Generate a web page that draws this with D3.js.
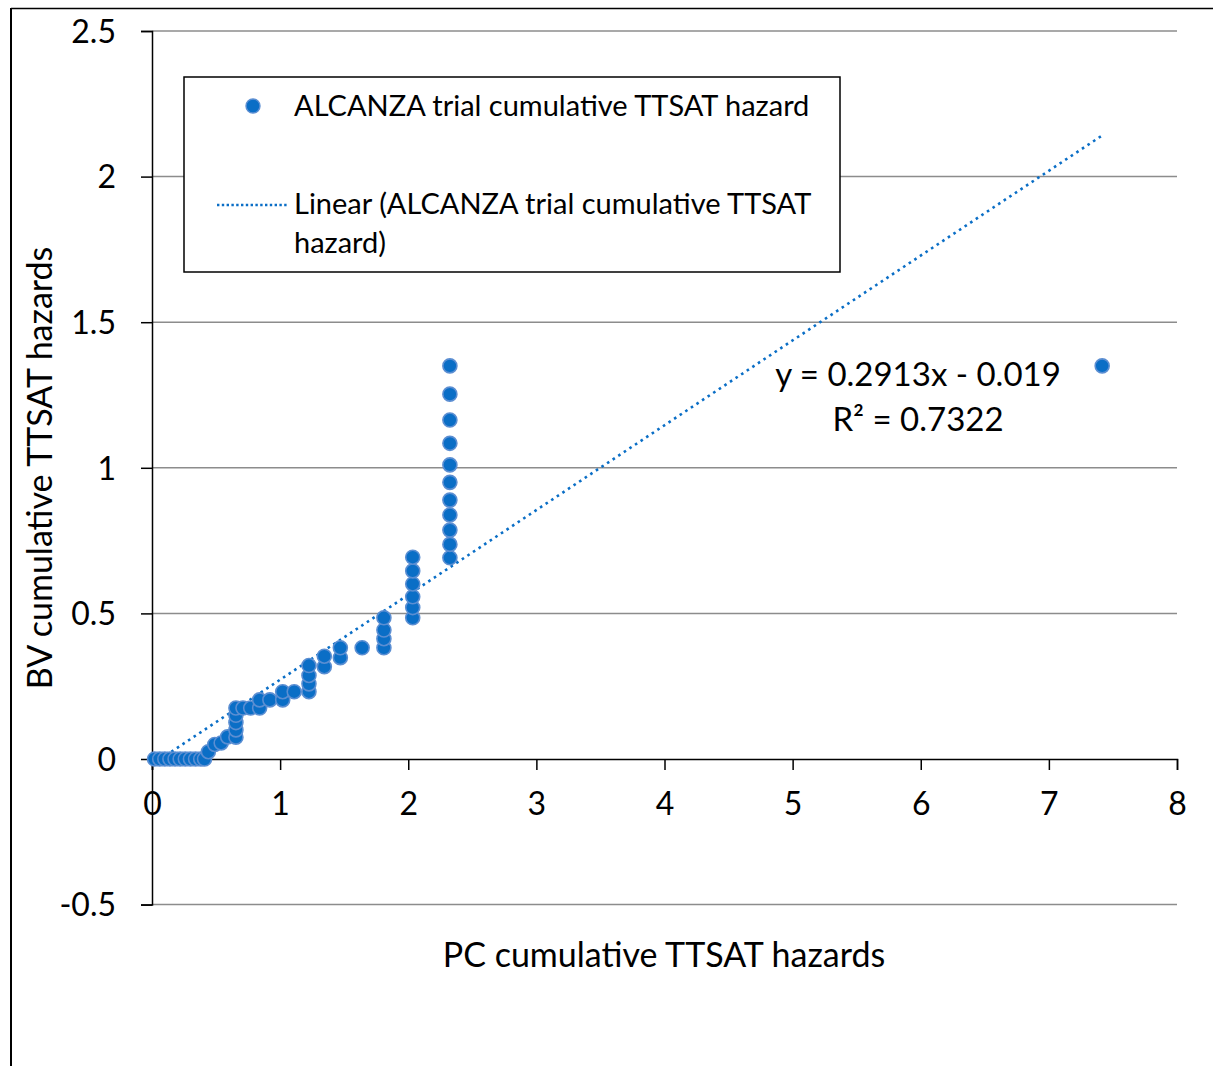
<!DOCTYPE html>
<html><head><meta charset="utf-8">
<script src="https://cdn.jsdelivr.net/npm/d3@7"></script>
<style>
html,body{margin:0;padding:0;background:#fff;}
svg text{font-family:Lato,"Open Sans",sans-serif;fill:#000;}
</style></head>
<body><svg id="chart" width="1213" height="1066"></svg>
<script>
// Data: PC cumulative TTSAT hazard (x) vs BV cumulative TTSAT hazard (y)
const pcHazard = [0.02,0.06,0.10,0.14,0.18,0.22,0.26,0.30,0.34,0.38,0.41,
  0.44,0.49,0.54,0.59,
  0.655,0.655,0.655,0.655,0.655,
  0.71,0.77,0.84,0.84,0.92,1.02,1.02,1.11,
  1.225,1.225,1.225,1.225,
  1.345,1.345,1.47,1.47,1.64,
  1.81,1.81,1.81,1.81,
  2.035,2.035,2.035,2.035,2.035,2.035,
  2.325,2.325,2.325,2.325,2.325,2.325,2.325,2.325,2.325,2.325,2.325,
  7.416];
const bvHazard = [0,0,0,0,0,0,0,0,0,0,0,
  0.025,0.05,0.055,0.076,
  0.075,0.10,0.125,0.15,0.175,
  0.175,0.175,0.175,0.203,0.203,0.203,0.231,0.231,
  0.231,0.258,0.287,0.321,
  0.317,0.353,0.348,0.382,0.382,
  0.382,0.413,0.443,0.485,
  0.485,0.520,0.557,0.601,0.646,0.693,
  0.691,0.737,0.786,0.838,0.889,0.950,1.010,1.084,1.164,1.253,1.350,
  1.350];
const xTicks = [0,1,2,3,4,5,6,7,8];
const yTicks = [-0.5,0,0.5,1,1.5,2,2.5];
const trendSlope = 0.2913, trendIntercept = -0.019, rSquared = 0.7322;
const seriesName = "ALCANZA trial cumulative TTSAT hazard";
const xTitle = "PC cumulative TTSAT hazards";
const yTitle = "BV cumulative TTSAT hazards";

const svg = d3.select("#chart");
const x = d3.scaleLinear().domain([0,8]).range([152,1177]);
const y = d3.scaleLinear().domain([-0.5,2.5]).range([904.6,31]);
const blue = "#0a6ec6";
const FS = 29, TICKFS = 32, TITLEFS = 34, EQFS = 33;

// outer chart frame (partially visible)
svg.append("line").attr("x1",11).attr("x2",11).attr("y1",8).attr("y2",1066).attr("stroke","#000").attr("stroke-width",2);
svg.append("line").attr("x1",11).attr("x2",1213).attr("y1",8.5).attr("y2",8.5).attr("stroke","#000").attr("stroke-width",1.5);

// gridlines
svg.append("g").selectAll("line").data(yTicks.filter(d=>d!==0)).join("line")
  .attr("x1",x(0)).attr("x2",x(8)).attr("y1",d=>y(d)).attr("y2",d=>y(d))
  .attr("stroke","#8c8c8c").attr("stroke-width",1.5);

// y axis
const yAxis = svg.append("g").attr("transform",`translate(${x(0)},0)`)
  .call(d3.axisLeft(y).tickValues(yTicks).tickSize(11).tickPadding(25).tickFormat(d=>String(d)));
yAxis.select(".domain").attr("stroke","#000").attr("stroke-width",1.5);
yAxis.selectAll(".tick line").attr("stroke","#000").attr("stroke-width",1.5);
yAxis.selectAll("text").attr("font-size",TICKFS).attr("font-family","Lato").attr("dy","0.35em");

// x axis at y=0
const xAxis = svg.append("g").attr("transform",`translate(0,${y(0)})`)
  .call(d3.axisBottom(x).tickValues(xTicks).tickSize(11).tickSizeOuter(11).tickPadding(22).tickFormat(d=>String(d)));
xAxis.select(".domain").attr("stroke","#000").attr("stroke-width",1.5);
xAxis.selectAll(".tick line").attr("stroke","#000").attr("stroke-width",1.5);
xAxis.selectAll("text").attr("font-size",TICKFS).attr("font-family","Lato");

// trendline over data x extent
const xExt = d3.extent(pcHazard);
svg.append("line")
  .attr("x1",x(xExt[0])).attr("y1",y(trendSlope*xExt[0]+trendIntercept))
  .attr("x2",x(xExt[1])).attr("y2",y(trendSlope*xExt[1]+trendIntercept))
  .attr("stroke",blue).attr("stroke-width",2.6).attr("stroke-dasharray","2.6 4.1");

// points
const pts = pcHazard.map((v,i)=>({x:v,y:bvHazard[i]}));
svg.append("g").selectAll("circle").data(pts).join("circle")
  .attr("cx",d=>x(d.x)).attr("cy",d=>y(d.y)).attr("r",7)
  .attr("fill",blue).attr("stroke","#5b8ed2").attr("stroke-width",1.6);

// trend equation
const eq = svg.append("text").attr("text-anchor","middle").attr("font-size",EQFS);
eq.append("tspan").attr("x",918).attr("y",386).text(`y = ${trendSlope}x - ${Math.abs(trendIntercept)}`);
eq.append("tspan").attr("x",918).attr("y",431).text(`R² = ${rSquared}`);

// axis titles
svg.append("text").attr("x",664).attr("y",967).attr("text-anchor","middle").attr("font-size",TITLEFS).text(xTitle);
svg.append("text").attr("transform","translate(52,468) rotate(-90)").attr("text-anchor","middle").attr("font-size",TITLEFS).text(yTitle);

// legend
const lg = svg.append("g");
lg.append("rect").attr("x",184).attr("y",77).attr("width",656).attr("height",195)
  .attr("fill","#fff").attr("stroke","#000").attr("stroke-width",1.5);
lg.append("circle").attr("cx",253).attr("cy",106).attr("r",7).attr("fill",blue).attr("stroke","#5b8ed2").attr("stroke-width",1.4);
lg.append("text").attr("x",294).attr("y",116).attr("font-size",FS).text(seriesName);
lg.append("line").attr("x1",217).attr("x2",288).attr("y1",205).attr("y2",205)
  .attr("stroke",blue).attr("stroke-width",2.4).attr("stroke-dasharray","2.4 2.4");
const lt = lg.append("text").attr("font-size",FS);
lt.append("tspan").attr("x",294).attr("y",214).text(`Linear (${seriesName.replace(" hazard","")}`);
lt.append("tspan").attr("x",294).attr("y",253).text("hazard)");
</script></body></html>
